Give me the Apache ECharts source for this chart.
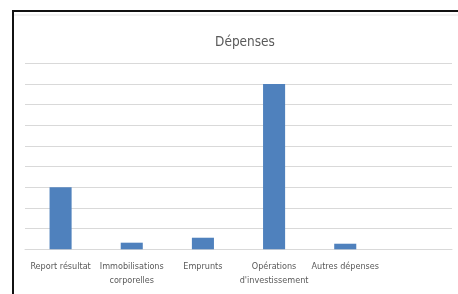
<!DOCTYPE html>
<html><head><meta charset="utf-8">
<script src="https://cdn.jsdelivr.net/npm/echarts@6/dist/echarts.min.js"></script>
<style>html,body{margin:0;padding:0;background:#fff}#c{width:458px;height:294px}</style>
</head><body><div id="c"></div>
<script>
const categories = ['Report résultat', 'Immobilisations\ncorporelles', 'Emprunts', 'Opérations\nd\'investissement', 'Autres dépenses', ''];
const values = [3, 0.32, 0.56, 8, 0.27, null];
const chartTitle = 'Dépenses';
const yMax = 9;
const yStep = 1;

const labelFont = '"DejaVu Sans Condensed", "Liberation Sans Narrow", "Arial Narrow", sans-serif';
const chart = echarts.init(document.getElementById('c'), null, {renderer: 'canvas'});
chart.setOption({
  animation: false,
  backgroundColor: '#fff',
  title: {
    text: chartTitle, left: 240, top: 30, textAlign: 'center',
    textStyle: {fontFamily: labelFont, fontSize: 13.5, fontWeight: 'normal', color: '#595959'}
  },
  grid: {left: 25, right: 6, top: 63.3, bottom: 44.7, containLabel: false},
  xAxis: {
    type: 'category', data: categories,
    axisLine: {show: true, lineStyle: {color: '#d9d9d9', width: 1}},
    axisTick: {show: false},
    axisLabel: {interval: 0, color: '#595959', fontSize: 9, lineHeight: 14, margin: 10,
      fontFamily: labelFont}
  },
  yAxis: {
    type: 'value', min: 0, max: yMax, interval: yStep,
    axisLine: {show: false}, axisTick: {show: false}, axisLabel: {show: false},
    splitLine: {lineStyle: {color: '#d9d9d9', width: 1}}
  },
  series: [{
    type: 'bar', data: values, barWidth: '31%',
    itemStyle: {color: '#4f81bd'}
  }],
  graphic: [
    {type: 'rect', shape: {x: 12, y: 10, width: 2, height: 284}, style: {fill: '#111'}},
    {type: 'rect', shape: {x: 12, y: 10, width: 446, height: 2}, style: {fill: '#111'}},
    {type: 'rect', shape: {x: 14, y: 14.5, width: 444, height: 1}, style: {fill: '#e6e6e6'}}
  ]
});
</script></body></html>
